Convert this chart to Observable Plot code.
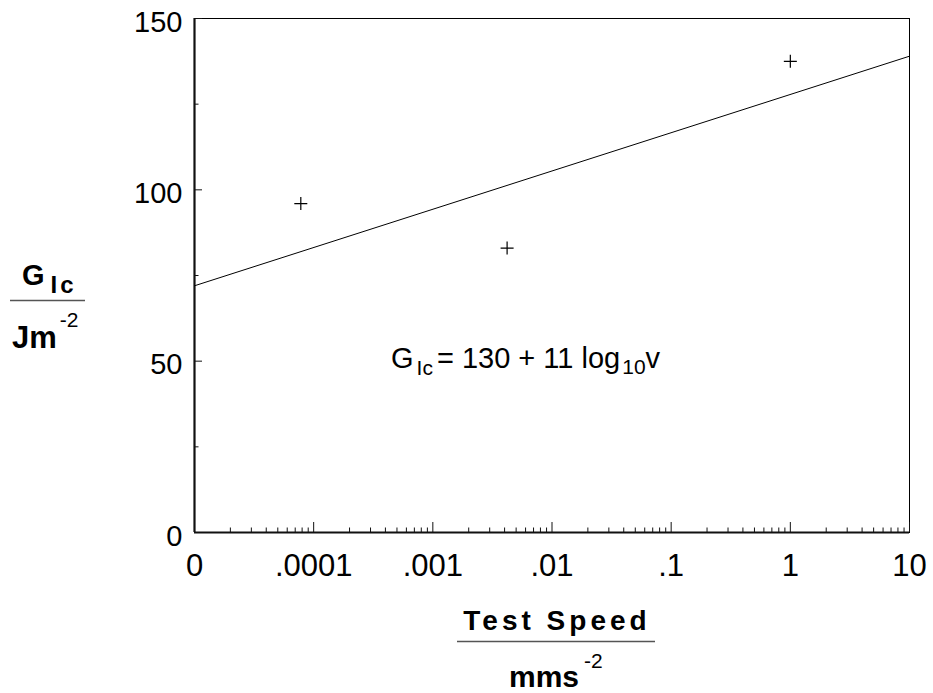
<!DOCTYPE html>
<html><head><meta charset="utf-8">
<script src="https://cdn.jsdelivr.net/npm/d3@7"></script>
<script src="https://cdn.jsdelivr.net/npm/@observablehq/plot@0.6"></script>
<style>
html,body{margin:0;padding:0;background:#fff;}
#chart svg{display:block;}
</style></head><body><div id="chart"></div>
<script>
// ---- data ----
const speeds = [7.8e-5, 0.0042, 1.0];        // test speed (mm s^-2)
const gic = [96, 83, 137.5];                  // G_Ic (J m^-2)
const fitSpeeds = [1e-5, 10];
const fitG = [72, 139];
const xTicks = [1e-5, 1e-4, 1e-3, 1e-2, 1e-1, 1, 10];
const xTickLabels = ["0", ".0001", ".001", ".01", ".1", "1", "10"];
const yTicks = [0, 50, 100, 150];
const yMinorTicks = [25, 75, 125];
const minorMultipliers = [2, 3, 4, 5, 6, 7, 8, 9];
const equationAt = {speed: 4.5e-4, g: 48};

const xMinorTicks = xTicks.slice(0, -1).flatMap(d => minorMultipliers.map(m => d * m));
const points = speeds.map((s, i) => ({s, g: gic[i]}));
const fit = fitSpeeds.map((s, i) => ({s, g: fitG[i]}));

const plusSymbol = {
  draw(ctx, size) {
    const r = Math.sqrt(size / Math.PI);
    ctx.moveTo(-r, 0); ctx.lineTo(r, 0);
    ctx.moveTo(0, -r); ctx.lineTo(0, r);
  }
};

const W = 933, H = 693;
const plot = Plot.plot({
  width: W, height: H,
  marginLeft: 194, marginRight: 24, marginTop: 18, marginBottom: 161,
  style: {fontFamily: "'Liberation Sans', Arial, Helvetica, sans-serif", background: "#fff", color: "#000"},
  x: {type: "log", domain: [1e-5, 10]},
  y: {domain: [0, 150]},
  marks: [
    Plot.frame({stroke: "#000", strokeWidth: 1}),
    Plot.ruleX([1e-5], {stroke: "#111", strokeWidth: 2.2}),
    Plot.ruleY([0], {stroke: "#111", strokeWidth: 2.2}),
    Plot.axisX({ticks: xTicks, tickSize: -10, tickFormat: () => "", label: null, stroke: "#111"}),
    Plot.axisX({ticks: xMinorTicks, tickSize: -4.5, tickFormat: () => "", label: null, stroke: "#111"}),
    Plot.axisX({ticks: xTicks, tickSize: 0, tickPadding: 21, fontSize: 31, fill: "#000",
      tickFormat: d => xTickLabels[xTicks.indexOf(d)], label: null}),
    Plot.axisY({ticks: yTicks, tickSize: -8, tickFormat: () => "", label: null, stroke: "#111"}),
    Plot.axisY({ticks: yMinorTicks, tickSize: -4.5, tickFormat: () => "", label: null, stroke: "#111"}),
    Plot.axisY({ticks: yTicks, tickSize: 0, tickPadding: 12, dy: 4, fontSize: 29, fill: "#000", label: null}),
    Plot.line(fit, {x: "s", y: "g", stroke: "#000", strokeWidth: 1}),
    Plot.dot(points, {x: "s", y: "g", symbol: plusSymbol, r: 6.5, stroke: "#000", strokeWidth: 1.2, fill: "none"})
  ]
});
document.getElementById("chart").appendChild(plot);

// ---- rich-text annotations ----
const svg = d3.select(plot);
const ff = "'Liberation Sans', Arial, Helvetica, sans-serif";
const xs = plot.scale("x"), ys = plot.scale("y");

// equation
const eq = svg.append("text")
  .attr("x", xs.apply(equationAt.speed)).attr("y", ys.apply(equationAt.g))
  .attr("text-anchor", "start")
  .attr("font-family", ff).attr("font-size", 29).attr("fill", "#000");
eq.append("tspan").text("G");
eq.append("tspan").attr("font-size", 21).attr("dy", 7).attr("dx", 3).text("Ic");
eq.append("tspan").attr("dy", -7).attr("dx", 4).text("= 130 + 11 log");
eq.append("tspan").attr("font-size", 21).attr("dy", 6).attr("dx", 2).text("10");
eq.append("tspan").attr("dy", -6).text("v");

// y title
const yt = svg.append("text").attr("x", 22).attr("y", 285).attr("text-anchor", "start")
  .attr("font-family", ff).attr("font-weight", "bold").attr("font-size", 29).attr("fill", "#000");
yt.append("tspan").text("G");
yt.append("tspan").attr("font-size", 24).attr("dy", 8).attr("dx", 6).attr("letter-spacing", 3).text("Ic");
svg.append("line").attr("x1", 10).attr("x2", 85).attr("y1", 300.5).attr("y2", 300.5)
  .attr("stroke", "#555").attr("stroke-width", 1.6);
const yb = svg.append("text").attr("x", 12).attr("y", 348).attr("text-anchor", "start")
  .attr("font-family", ff).attr("font-weight", "bold").attr("font-size", 31).attr("fill", "#000");
yb.append("tspan").text("Jm");
yb.append("tspan").attr("font-weight", "normal").attr("font-size", 21).attr("dy", -21).attr("dx", 3).text("-2");

// x title
svg.append("text").attr("x", 557).attr("y", 630).attr("text-anchor", "middle")
  .attr("font-family", ff).attr("font-weight", "bold").attr("font-size", 28)
  .attr("letter-spacing", 4).attr("fill", "#000").text("Test Speed");
svg.append("line").attr("x1", 457).attr("x2", 655).attr("y1", 641.5).attr("y2", 641.5)
  .attr("stroke", "#555").attr("stroke-width", 1.6);
const xb = svg.append("text").attr("x", 509).attr("y", 687).attr("text-anchor", "start")
  .attr("font-family", ff).attr("font-weight", "bold").attr("font-size", 30).attr("fill", "#000");
xb.append("tspan").text("mms");
xb.append("tspan").attr("font-weight", "normal").attr("font-size", 21).attr("dy", -19).attr("dx", 5).text("-2");
</script></body></html>
